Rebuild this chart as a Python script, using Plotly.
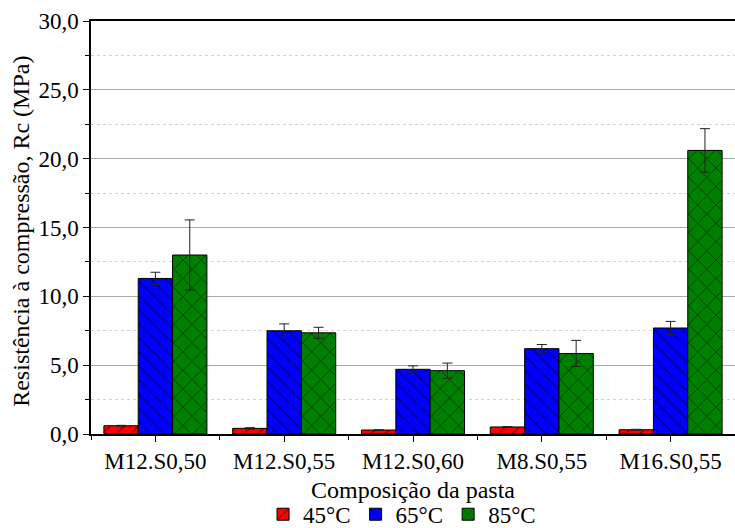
import plotly.graph_objects as go

# Compressive strength by paste composition and curing temperature
categories = ["M12.S0,50", "M12.S0,55", "M12.S0,60", "M8.S0,55", "M16.S0,55"]
temps = ["45°C", "65°C", "85°C"]

rc_45 = [0.60, 0.41, 0.29, 0.51, 0.31]
rc_65 = [11.3, 7.5, 4.7, 6.2, 7.7]
rc_85 = [13.0, 7.35, 4.6, 5.85, 20.6]

err_45 = [0.03, 0.05, 0.02, 0.03, 0.03]
err_65 = [0.45, 0.50, 0.25, 0.30, 0.48]
err_85 = [2.55, 0.40, 0.55, 0.95, 1.58]

colors = ["#ff0000", "#0000ff", "#008000"]
patterns = ["/", "\\", "x"]
pattern_sizes = [10, 10, 13]

FONT = "Liberation Serif, Times New Roman, serif"
xpos = list(range(len(categories)))

fig = go.Figure()
for name, vals, errs, col, pat, psz in zip(temps, [rc_45, rc_65, rc_85],
                                           [err_45, err_65, err_85], colors,
                                           patterns, pattern_sizes):
    fig.add_trace(go.Bar(
        x=xpos, y=vals, name=name,
        marker=dict(color=col, line=dict(color="black", width=1),
                    pattern=dict(shape=pat, fgcolor="black", bgcolor=col,
                                 size=psz, solidity=0.14)),
        error_y=dict(type="data", array=errs, visible=True,
                     color="#222222", thickness=1, width=5),
    ))

fig.update_layout(
    width=735, height=528,
    barmode="group", bargap=0.2, bargroupgap=0,
    separators=",.",
    paper_bgcolor="white", plot_bgcolor="white",
    margin=dict(l=91, r=0, t=21, b=94, autoexpand=False),
    font=dict(family=FONT, size=23, color="black"),
    legend=dict(orientation="h", xref="container", x=0.547, xanchor="center",
                yref="container", y=0.026, yanchor="middle",
                font=dict(family=FONT, size=23),
                bgcolor="rgba(0,0,0,0)", tracegroupgap=0,
                itemwidth=30),
    xaxis=dict(
        range=[-0.5, 4.5], automargin=False,
        tickmode="array", tickvals=xpos, ticktext=categories,
        ticks="outside", ticklen=6, tickcolor="black",
        showline=True, linecolor="black", linewidth=1.5, mirror=True,
        showgrid=False, zeroline=False,
        minor=dict(tickmode="linear", tick0=0.5, dtick=1, ticks="outside",
                   ticklen=4, tickcolor="black", showgrid=False),
        tickfont=dict(family=FONT, size=23),
    ),
    yaxis=dict(
        range=[0, 30], dtick=5, tickformat=".1f", automargin=False,
        ticks="outside", ticklen=6, tickcolor="black",
        showline=True, linecolor="black", linewidth=1.5,
        showgrid=True, gridcolor="#aaaaaa", gridwidth=1,
        zeroline=False,
        minor=dict(dtick=2.5, ticks="outside", ticklen=4, tickcolor="black",
                   showgrid=True, gridcolor="#d4d4d4", griddash="dot", gridwidth=1),
        tickfont=dict(family=FONT, size=23),
    ),
    annotations=[
        dict(text="Composição da pasta", xref="paper", yref="paper",
             x=0.5, y=-0.136, xanchor="center", yanchor="middle",
             showarrow=False, font=dict(family=FONT, size=24)),
        dict(text="Resistência à compressão, Rc (MPa)", xref="paper", yref="paper",
             x=-0.110, y=0.49, xanchor="center", yanchor="middle", textangle=-90,
             showarrow=False, font=dict(family=FONT, size=24)),
    ],
)

fig.write_html("out.html")
